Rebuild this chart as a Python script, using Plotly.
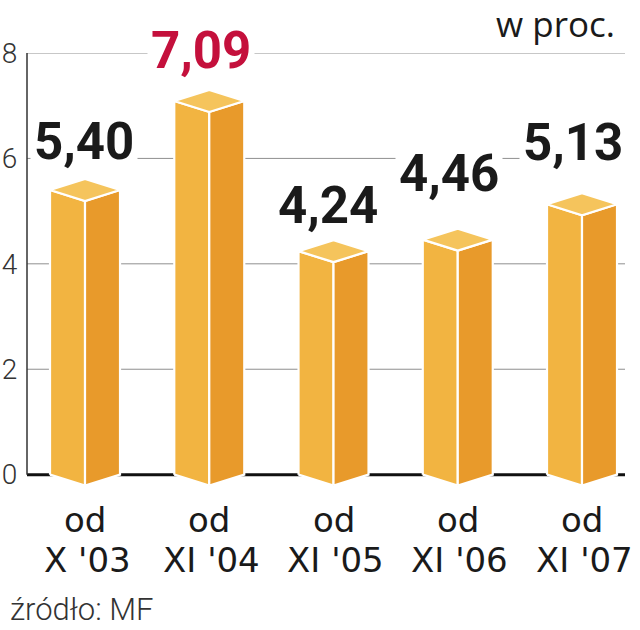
import plotly.graph_objects as go

# ---- data ----
cat_line1 = ["od", "od", "od", "od", "od"]
cat_line2 = ["X '03", "XI '04", "XI '05", "XI '06", "XI '07"]
values = [5.40, 7.09, 4.24, 4.46, 5.13]
y_ticks = [0, 2, 4, 6, 8]
unit_label = "w proc."
source_label = "źródło: MF"

# ---- styles / layout ----
W, H = 640, 630
ML, MR, MT, MB = 27, 15, 53, 129
X_RANGE = [-0.467, 4.346]
Y_RANGE = [-0.5, 8.0]
px_x = (W - ML - MR) / (X_RANGE[1] - X_RANGE[0])
px_y = (H - MT - MB) / (Y_RANGE[1] - Y_RANGE[0])
HALF_W = 35 / px_x      # half bar width in x units
DEPTH = 11 / px_y       # isometric drop in y units

FRONT = "#F2B441"
SIDE = "#E89A2B"
TOP = "#F5C45C"
RED = "#C4103C"
INK = "#1a1a1a"
GRID = "#8f8f8f"
label_dy = [49, 50, 46, 66, 62]        # px above bar value (cap centre)
label_dx = [-1, -8, -6, -9, -9]

xs = list(range(len(values)))

def faces():
    fx, fy, sx, sy, tx, ty = [], [], [], [], [], []
    for i, v in zip(xs, values):
        fx += [i - HALF_W, i - HALF_W, i, i, i - HALF_W, None]
        fy += [0, v, v - DEPTH, -DEPTH, 0, None]
        sx += [i, i, i + HALF_W, i + HALF_W, i, None]
        sy += [-DEPTH, v - DEPTH, v, 0, -DEPTH, None]
        tx += [i - HALF_W, i, i + HALF_W, i, i - HALF_W, None]
        ty += [v, v + DEPTH, v, v - DEPTH, v, None]
    return (fx, fy), (sx, sy), (tx, ty)

(fx, fy), (sx, sy), (tx, ty) = faces()

fig = go.Figure()
for (px, py, col) in [(fx, fy, FRONT), (sx, sy, SIDE), (tx, ty, TOP)]:
    fig.add_trace(go.Scatter(
        x=px, y=py, mode="lines", fill="toself", fillcolor=col,
        line=dict(color="white", width=2.2), hoverinfo="skip",
        showlegend=False,
    ))

annotations = []
vmax = max(values)
for i, v in enumerate(values):
    annotations.append(dict(
        x=i, y=v, xref="x", yref="y", text=f"{v:.2f}".replace(".", ","),
        showarrow=False, xanchor="center", yanchor="middle",
        xshift=label_dx[i], yshift=label_dy[i],
        font=dict(family="Roboto", size=51, weight="bold",
                  color=RED if v == vmax else INK),
        bgcolor="white", borderpad=3,
    ))
    annotations.append(dict(
        x=i, y=0, xref="x", yref="y", text=cat_line1[i], showarrow=False,
        xanchor="center", yanchor="middle", yshift=-45,
        font=dict(family="DejaVu Sans", size=34, color=INK),
    ))
    annotations.append(dict(
        x=i, y=0, xref="x", yref="y", text=cat_line2[i], showarrow=False,
        xanchor="center", yanchor="middle", yshift=-85, xshift=2,
        font=dict(family="DejaVu Sans", size=34, color=INK),
    ))

annotations.append(dict(
    x=1, y=1, xref="paper", yref="paper", text=unit_label, showarrow=False,
    xanchor="right", yanchor="middle", xshift=-8, yshift=30,
    font=dict(family="Open Sans", size=35, color=INK),
))
annotations.append(dict(
    x=0, y=0, xref="paper", yref="paper", text=source_label, showarrow=False,
    xanchor="left", yanchor="middle", xshift=-19, yshift=-108,
    font=dict(family="Roboto", size=31, weight=300, color="#333"),
))

shapes = [
    dict(type="line", xref="paper", yref="y", x0=0, x1=1, y0=t, y1=t,
         line=dict(color=GRID, width=1), layer="below")
    for t in y_ticks if t != 0
]
shapes += [
    dict(type="line", xref="paper", yref="y", x0=0, x1=1, y0=0, y1=0,
         line=dict(color="#111", width=3), layer="below"),
    dict(type="line", xref="paper", yref="y", x0=0, x1=0, y0=0, y1=max(y_ticks),
         line=dict(color="#333", width=1.5), layer="below"),
]

fig.update_layout(
    width=W, height=H, margin=dict(l=ML, r=MR, t=MT, b=MB, autoexpand=False),
    paper_bgcolor="white", plot_bgcolor="white",
    xaxis=dict(range=X_RANGE, showgrid=False, zeroline=False, automargin=False,
               showticklabels=False, ticks="", fixedrange=True),
    yaxis=dict(range=Y_RANGE, tickvals=y_ticks, showgrid=False, automargin=False,
               zeroline=False, ticks="outside", ticklen=3,
               tickcolor="rgba(0,0,0,0)",
               tickfont=dict(family="Roboto", size=28, weight=300, color="#333"),
               showline=False, fixedrange=True),
    annotations=annotations, shapes=shapes, hovermode=False,
)

fig.write_html("out.html", config={"displayModeBar": False, "staticPlot": True},
               post_script="document.body.style.margin='0';")
